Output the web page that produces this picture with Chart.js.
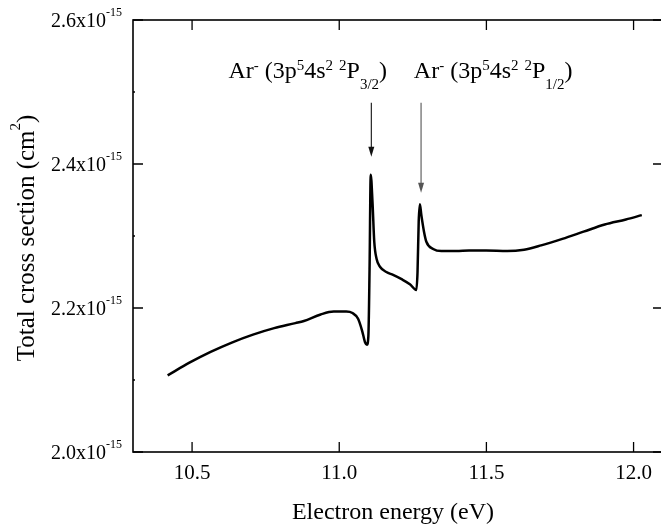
<!DOCTYPE html>
<html>
<head>
<meta charset="utf-8">
<script src="https://cdn.jsdelivr.net/npm/chart.js@4.4.0/dist/chart.umd.min.js"></script>
<style>
  html, body { margin: 0; padding: 0; background: #fff; overflow: hidden; }
  #wrap { width: 664px; height: 526px; }
</style>
</head>
<body>
<div id="wrap"><canvas id="chart" width="664" height="526"></canvas></div>
<script>
// electron energy (eV) and total cross section (units of 1e-15 cm^2)
const energy = [10.417, 10.491, 10.563, 10.635, 10.707, 10.779, 10.851, 10.880, 10.937, 10.981,
    11.024, 11.045, 11.064, 11.078, 11.088, 11.094, 11.099, 11.103, 11.107, 11.113,
    11.119, 11.127, 11.139, 11.160, 11.183, 11.212, 11.240, 11.262, 11.266, 11.270,
    11.274, 11.279, 11.288, 11.296, 11.319, 11.347, 11.398, 11.441, 11.499, 11.571,
    11.628, 11.686, 11.758, 11.830, 11.902, 11.974, 12.028];
const crossSection = [2.1065, 2.124, 2.139, 2.152, 2.163, 2.172, 2.179, 2.182, 2.191, 2.195,
    2.195, 2.193, 2.185, 2.168, 2.152, 2.149, 2.161, 2.254, 2.385, 2.347,
    2.292, 2.268, 2.257, 2.250, 2.246, 2.240, 2.233, 2.225, 2.250, 2.320,
    2.344, 2.329, 2.306, 2.292, 2.282, 2.279, 2.279, 2.280, 2.280, 2.279,
    2.281, 2.287, 2.296, 2.306, 2.316, 2.323, 2.329];

const xTicks = [10.5, 11.0, 11.5, 12.0];
const yTicks = [2.0, 2.2, 2.4, 2.6];
const yMinorTicks = [2.1, 2.3, 2.5];

// resonance markers
const arrowX = [11.109, 11.278];
const arrowTop = [2.485, 2.485];
const arrowTip = [2.410, 2.360];
const arrowColor = ['#111', '#555'];
const labelX = [10.6235, 11.2535];
const labelY = [2.519, 2.519];
const labelParts = [
    [['Ar', 0], ['-', 1], [' (3p', 0], ['5', 1], ['4s', 0], ['2', 1], [' ', 0], ['2', 1], ['P', 0], ['3/2', -1], [')', 0]],
    [['Ar', 0], ['-', 1], [' (3p', 0], ['5', 1], ['4s', 0], ['2', 1], [' ', 0], ['2', 1], ['P', 0], ['1/2', -1], [')', 0]]
];

const FONT = '"Liberation Serif", "Times New Roman", serif';

function richWidth(ctx, parts, st) {
    let w = 0;
    for (const p of parts) {
        ctx.font = (p[1] === 0 ? st.size : st.small) + 'px ' + FONT;
        w += ctx.measureText(p[0]).width;
    }
    return w;
}

function drawRich(ctx, parts, x, y, st) {
    for (const p of parts) {
        ctx.font = (p[1] === 0 ? st.size : st.small) + 'px ' + FONT;
        let dy = p[1] === 1 ? st.sup : (p[1] === -1 ? st.sub : 0);
        ctx.fillText(p[0], x, y + dy);
        x += ctx.measureText(p[0]).width;
    }
}

const labelStyle = { size: 24, small: 15, sup: -8.5, sub: 10.5 };
const yTickStyle = { size: 20, small: 12, sup: -11.5, sub: 0 };
const yTitleStyle = { size: 25, small: 15, sup: -14, sub: 0 };

const framePlugin = {
    id: 'frame',
    afterDraw(chart) {
        const ctx = chart.ctx;
        const a = chart.chartArea;
        const xs = chart.scales.x, ys = chart.scales.y;
        ctx.save();
        ctx.strokeStyle = '#000';
        ctx.fillStyle = '#000';
        ctx.lineWidth = 1.6;
        ctx.strokeRect(a.left, a.top, a.right - a.left, a.bottom - a.top);

        ctx.lineWidth = 1.3;
        ctx.beginPath();
        for (const v of xTicks) {
            const px = xs.getPixelForValue(v);
            ctx.moveTo(px, a.bottom); ctx.lineTo(px, a.bottom - 10);
            ctx.moveTo(px, a.top); ctx.lineTo(px, a.top + 10);
        }
        for (const v of yTicks) {
            const py = ys.getPixelForValue(v);
            ctx.moveTo(a.left, py); ctx.lineTo(a.left + 10, py);
            ctx.moveTo(a.right, py); ctx.lineTo(a.right - 10, py);
        }
        for (const v of yMinorTicks) {
            const py = ys.getPixelForValue(v);
            ctx.moveTo(a.left, py); ctx.lineTo(a.left + 2, py);
        }
        ctx.stroke();

        // tick labels
        ctx.textBaseline = 'alphabetic';
        ctx.textAlign = 'center';
        ctx.font = '21px ' + FONT;
        for (const v of xTicks) {
            ctx.fillText(v.toFixed(1), xs.getPixelForValue(v), 479);
        }
        ctx.textAlign = 'left';
        for (const v of yTicks) {
            const parts = [[v.toFixed(1) + 'x10', 0], ['-15', 1]];
            const w = richWidth(ctx, parts, yTickStyle);
            drawRich(ctx, parts, 122 - w, ys.getPixelForValue(v) + 7, yTickStyle);
        }

        // axis titles
        ctx.font = '24px ' + FONT;
        ctx.textAlign = 'center';
        ctx.fillText('Electron energy (eV)', 393, 519);
        const yt = [['Total cross section (cm', 0], ['2', 1], [')', 0]];
        const yw = richWidth(ctx, yt, yTitleStyle);
        ctx.translate(34, 238);
        ctx.rotate(-Math.PI / 2);
        ctx.textAlign = 'left';
        drawRich(ctx, yt, -yw / 2, 0, yTitleStyle);
        ctx.setTransform(1, 0, 0, 1, 0, 0);

        // arrows and labels
        for (let i = 0; i < arrowX.length; i++) {
            const px = xs.getPixelForValue(arrowX[i]);
            const y0 = ys.getPixelForValue(arrowTop[i]);
            const y1 = ys.getPixelForValue(arrowTip[i]);
            ctx.strokeStyle = arrowColor[i];
            ctx.fillStyle = arrowColor[i];
            ctx.lineWidth = 1.1;
            ctx.beginPath();
            ctx.moveTo(px, y0); ctx.lineTo(px, y1 - 8);
            ctx.stroke();
            ctx.beginPath();
            ctx.moveTo(px - 3, y1 - 10); ctx.lineTo(px + 3, y1 - 10); ctx.lineTo(px, y1);
            ctx.closePath();
            ctx.fill();

            ctx.fillStyle = '#000';
            drawRich(ctx, labelParts[i], xs.getPixelForValue(labelX[i]), ys.getPixelForValue(labelY[i]), labelStyle);
        }
        ctx.restore();
    }
};

new Chart(document.getElementById('chart').getContext('2d'), {
    type: 'line',
    data: {
        datasets: [{
            data: energy.map((e, i) => ({ x: e, y: crossSection[i] })),
            borderColor: '#000',
            borderWidth: 2.5,
            pointRadius: 0,
            fill: false,
            cubicInterpolationMode: 'monotone'
        }]
    },
    options: {
        responsive: false,
        animation: false,
        events: [],
        layout: { padding: { top: 20, right: 1, left: 0, bottom: 0 } },
        plugins: { legend: { display: false }, tooltip: { enabled: false } },
        scales: {
            x: {
                type: 'linear', min: 10.2993, max: 12.1,
                grid: { display: false, drawTicks: false },
                border: { display: false },
                ticks: { display: false },
                afterFit(scale) { scale.height = 74; }
            },
            y: {
                min: 2.0, max: 2.6,
                grid: { display: false, drawTicks: false },
                border: { display: false },
                ticks: { display: false },
                afterFit(scale) { scale.width = 133; }
            }
        }
    },
    plugins: [framePlugin]
});
</script>
</body>
</html>
